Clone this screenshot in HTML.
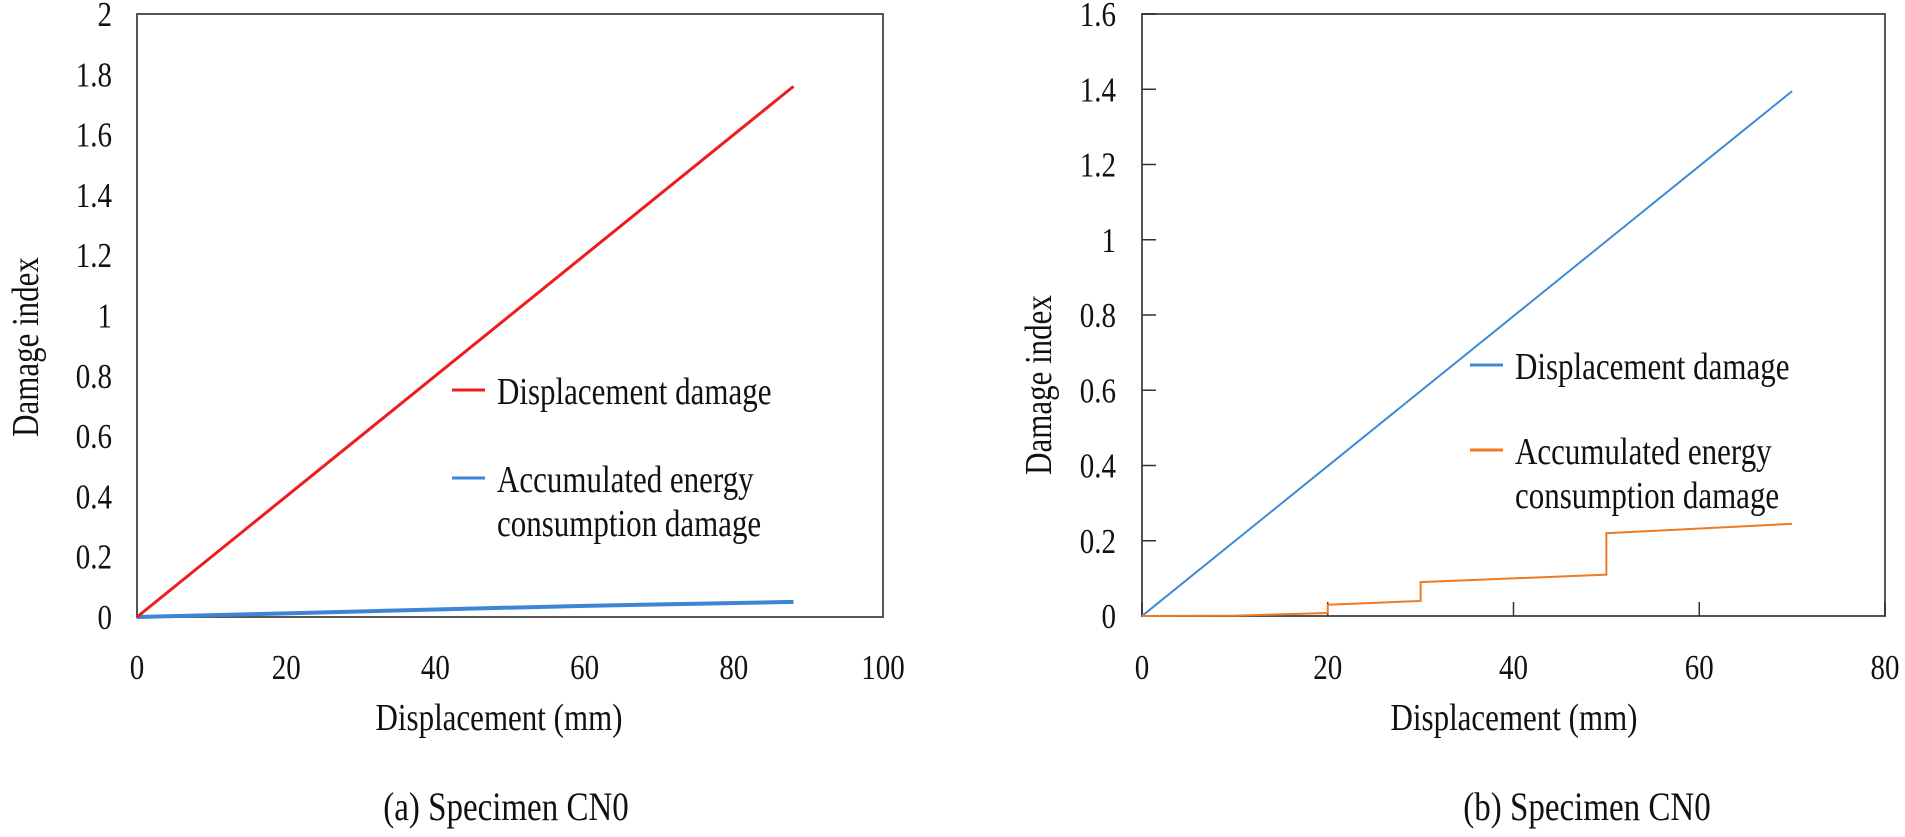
<!DOCTYPE html>
<html><head><meta charset="utf-8"><style>
html,body{margin:0;padding:0;background:#fff;}
svg text{font-family:"Liberation Serif",serif;fill:#111;}
</style></head><body>
<svg id="chart" width="1905" height="832" viewBox="0 0 1905 832" xmlns="http://www.w3.org/2000/svg">
<g id="A"></g>
<g id="B"></g>
</svg>
<script>
// Chart (a)
const aXTicks=[0,20,40,60,80,100];
const aYTicks=[0,0.2,0.4,0.6,0.8,1,1.2,1.4,1.6,1.8,2];
const aDispX=[0,88];
const aDispY=[0,1.76];
const aEnergyX=[0,20,40,60,88];
const aEnergyY=[0,0.012,0.025,0.037,0.05];
// Chart (b)
const bXTicks=[0,20,40,60,80];
const bYTicks=[0,0.2,0.4,0.6,0.8,1,1.2,1.4,1.6];
const bDispX=[0,70];
const bDispY=[0,1.395];
const bEnergyX=[0,10,20,20,30,30,50,50,70];
const bEnergyY=[0,0.001,0.008,0.03,0.04,0.09,0.11,0.22,0.245];

const NS="http://www.w3.org/2000/svg";
const VS=1.22;
function mk(p,tag,attrs,txt){const e=document.createElementNS(NS,tag);for(const k in attrs)e.setAttribute(k,attrs[k]);if(txt!==undefined)e.textContent=txt;p.appendChild(e);return e;}
// condensed text: keep width of base size, enlarge height
function tx(p,x,y,size,anchor,txt,rot){
  const g=mk(p,'g',{transform:rot?`translate(${x},${y}) rotate(-90) scale(1,${VS})`:`translate(${x},${y}) scale(1,${VS})`});
  const t=mk(g,'text',{x:0,y:0,'text-anchor':anchor,'font-size':size},txt);
  const w=t.getComputedTextLength();
  t.setAttribute('font-size',size*VS);
  t.setAttribute('textLength',w);
  t.setAttribute('lengthAdjust','spacingAndGlyphs');
  g.setAttribute('transform',rot?`translate(${x},${y}) rotate(-90)`:`translate(${x},${y})`);
  return t;
}
function fmt(v){return String(Math.round(v*10)/10);}

function draw(g,cfg){
  const sx=v=>cfg.x0+(v-cfg.xmin)/(cfg.xmax-cfg.xmin)*(cfg.x1-cfg.x0);
  const sy=v=>cfg.y0-(v-cfg.ymin)/(cfg.ymax-cfg.ymin)*(cfg.y0-cfg.y1);
  const box=mk(g,'rect',{x:cfg.x0,y:cfg.y1,width:cfg.x1-cfg.x0,height:cfg.y0-cfg.y1,fill:'none',stroke:'#555','stroke-width':2});
  
  
  cfg.yt.forEach(v=>{
    const t=tx(g,cfg.ylx,sy(v)+12,29,'end',fmt(v));
    
    
    if(cfg.ticks){const l=mk(g,'line',{x1:cfg.x0,x2:cfg.x0+14,y1:sy(v),y2:sy(v),stroke:'#333','stroke-width':1.5});
      
      }
  });
  cfg.xt.forEach(v=>{
    const t=tx(g,sx(v),679,29,'middle',fmt(v));
    
    
    if(cfg.ticks){const l=mk(g,'line',{x1:sx(v),x2:sx(v),y1:cfg.y0,y2:cfg.y0-14,stroke:'#333','stroke-width':1.5});
      
      }
  });
  cfg.series.forEach(s=>{
    const pts=s.x.map((v,i)=>sx(v)+','+sy(s.y[i])).join(' ');
    const pl=mk(g,'polyline',{points:pts,fill:'none',stroke:s.c,'stroke-width':s.w,'stroke-linejoin':'miter'});
    
    
  });
  const xt=tx(g,cfg.xtx,730,31,'middle','Displacement (mm)');
  
  
  const yt=tx(g,cfg.ytx,cfg.yty,31,'middle','Damage index',true);
  
  
  const cap=tx(g,cfg.capx,820,33,'middle',cfg.cap);
  
  
  cfg.legend.forEach(L=>{
    const ln=mk(g,'line',{x1:L.lx,x2:L.lx+33,y1:L.ly,y2:L.ly,stroke:L.c,'stroke-width':3});
    
    
    L.lines.forEach((s,i)=>{
      const t=tx(g,L.lx+45,L.ly+14+i*44,31,'start',s);
      
      
    });
  });
}

draw(document.getElementById('A'),{x0:137,x1:883,y0:617,y1:14,xmin:0,xmax:100,ymin:0,ymax:2,
  xt:aXTicks,yt:aYTicks,ylx:112,ticks:false,xtx:499,ytx:38,yty:347,capx:506,cap:'(a) Specimen CN0',
  series:[{x:aEnergyX,y:aEnergyY,c:'#3d85d6',w:4,name:'energy-damage-line'},{x:aDispX,y:aDispY,c:'#ee1c1c',w:3,name:'displacement-damage-line'}],
  legend:[{lx:452,ly:390,c:'#ee1c1c',lines:['Displacement damage']},{lx:452,ly:478,c:'#3d85d6',lines:['Accumulated energy','consumption damage']}]});

draw(document.getElementById('B'),{x0:1142,x1:1885,y0:616,y1:14,xmin:0,xmax:80,ymin:0,ymax:1.6,
  xt:bXTicks,yt:bYTicks,ylx:1116,ticks:true,xtx:1514,ytx:1051,yty:385,capx:1587,cap:'(b) Specimen CN0',
  series:[{x:bDispX,y:bDispY,c:'#3d8ad6',w:2,name:'displacement-damage-line'},{x:bEnergyX,y:bEnergyY,c:'#f07a22',w:2,name:'energy-damage-line'}],
  legend:[{lx:1470,ly:365,c:'#3d8ad6',lines:['Displacement damage']},{lx:1470,ly:450,c:'#f07a22',lines:['Accumulated energy','consumption damage']}]});
</script>
</body></html>
